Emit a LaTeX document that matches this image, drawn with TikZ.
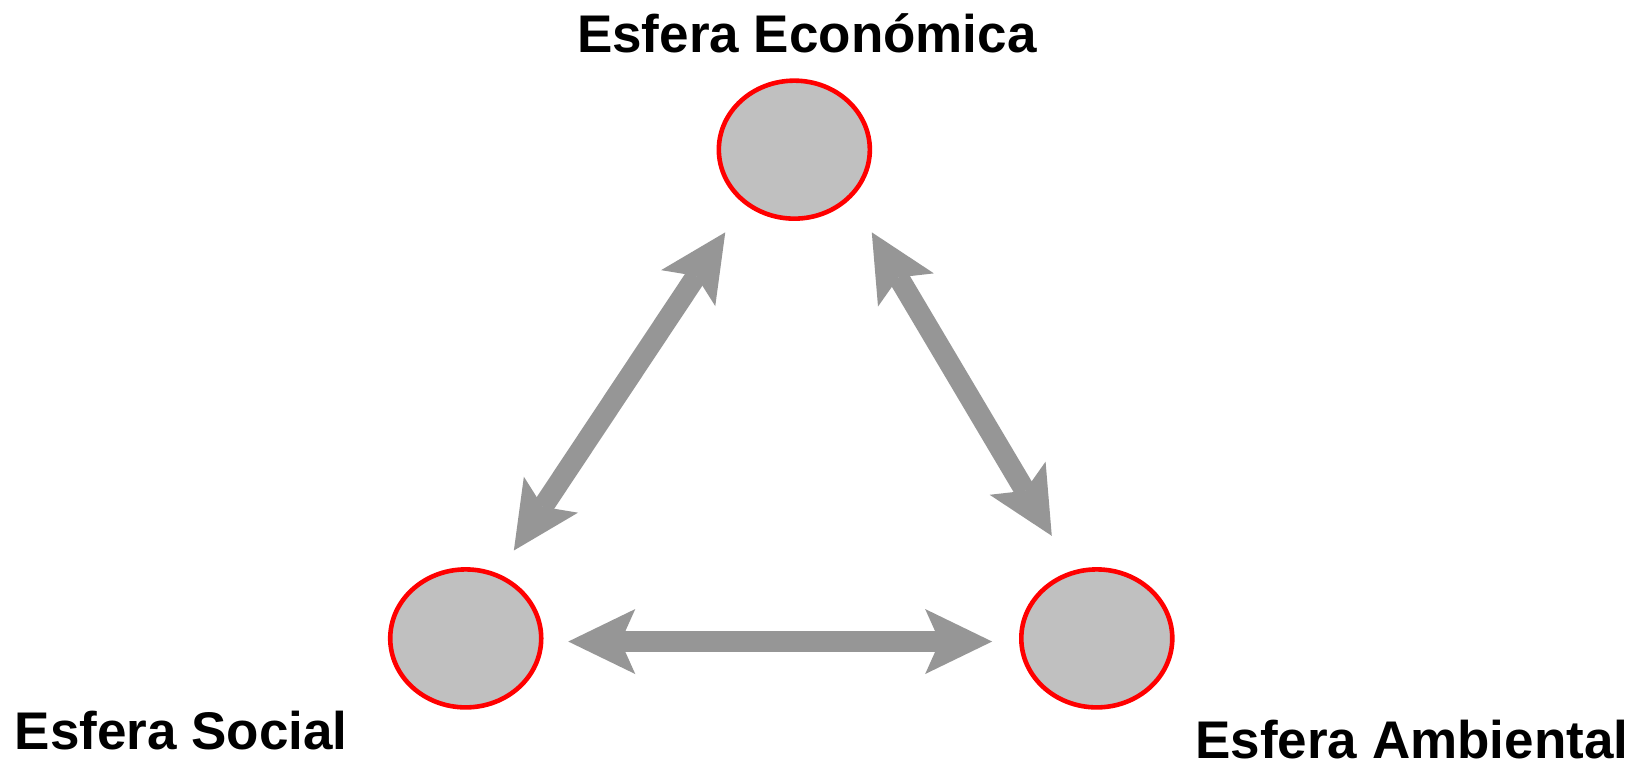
\documentclass[tikz,border=0pt]{standalone}
\usepackage{fontspec}
\setmainfont{Liberation Sans}
\usetikzlibrary{arrows.meta,shapes.geometric}
\definecolor{arrgray}{HTML}{969696}
\definecolor{fillgray}{HTML}{C0C0C0}
\begin{document}
\begin{tikzpicture}[x=1.0466pt,y=-1.0466pt,
  sphere/.style={ellipse, draw=red, line width=4.6pt, fill=fillgray, minimum width=151pt, minimum height=138pt, inner sep=0pt},
  link/.style={arrgray, line width=21pt, {Stealth[length=67pt,width=65pt,inset=14.6pt,line width=0pt]}-{Stealth[length=67pt,width=65pt,inset=14.6pt,line width=0pt]}},
  lbl/.style={font=\bfseries\fontsize{53}{64}\selectfont, inner sep=0pt, text depth=0pt}]
\useasboundingbox (0,0) rectangle (1568,733);
\node[sphere] (eco) at (759,143) {};
\node[sphere] (soc) at (445,610) {};
\node[sphere] (amb) at (1048,610) {};
\node[lbl, anchor=base] (teco) at (771,50) {Esfera Económica};
\node[lbl, anchor=base west] (tsoc) at (14,716) {Esfera Social};
\node[lbl, anchor=base west] (tamb) at (1142,725) {Esfera Ambiental};
\coordinate (a1) at (693,222);
\coordinate (a2) at (491,526);
\coordinate (b1) at (833,222);
\coordinate (b2) at (1005,512);
\coordinate (c1) at (543,613);
\coordinate (c2) at (948,613);
\draw[link] (a1) -- (a2);
\draw[link] (b1) -- (b2);
\draw[link] (c1) -- (c2);
\end{tikzpicture}
\end{document}
